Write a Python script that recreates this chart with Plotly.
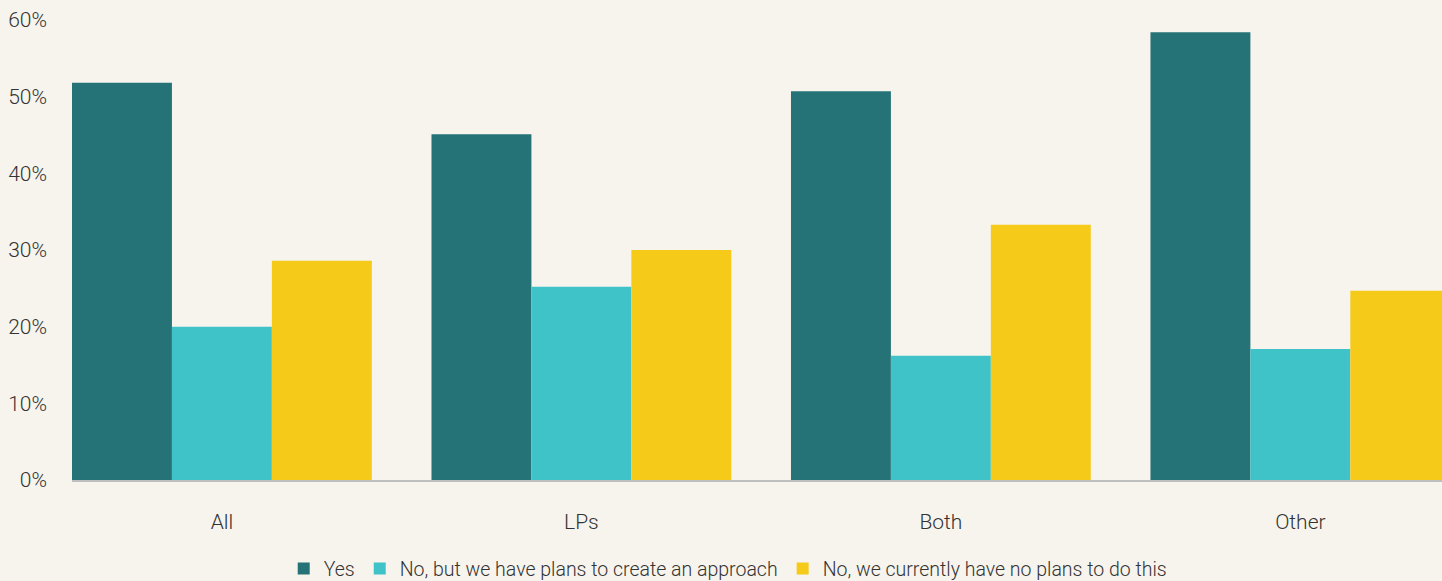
import plotly.graph_objects as go

categories = ["All", "LPs", "Both", "Other"]
series_names = ["Yes", "No, but we have plans to create an approach", "No, we currently have no plans to do this"]
yes_vals = [51.8, 45.1, 50.7, 58.4]
plans_vals = [20.0, 25.2, 16.2, 17.1]
noplans_vals = [28.6, 30.0, 33.3, 24.7]
colors = ["#267377", "#40C3C8", "#F5CA18"]
y_ticks = [0, 10, 20, 30, 40, 50, 60]
y_tick_labels = ["0%", "10%", "20%", "30%", "40%", "50%", "60%"]

FONT = "Roboto, sans-serif"

fig = go.Figure()
for name, vals, col in zip(series_names, [yes_vals, plans_vals, noplans_vals], colors):
    fig.add_trace(go.Bar(x=categories, y=vals, name=name, marker=dict(color=col, line=dict(width=0))))

fig.update_layout(
    width=1442, height=581,
    barmode="group", bargap=0.166, bargroupgap=0,
    paper_bgcolor="#F7F4EE", plot_bgcolor="#F7F4EE",
    margin=dict(l=72, r=0, t=20, b=101),
    font=dict(family=FONT, size=21, color="#333333", weight=300),
    showlegend=True,
    legend=dict(orientation="h", xref="container", x=0.505, xanchor="center",
                yref="container", y=0.021, yanchor="middle",
                font=dict(size=19.5, weight=300), itemsizing="constant", tracegroupgap=0,
                itemwidth=30, bgcolor="rgba(0,0,0,0)"),
    xaxis=dict(type="category", range=[-0.417, 3.394], showgrid=False,
               showline=True, linecolor="#BFBFBF", linewidth=1.5,
               ticks="", ticklabelstandoff=22, tickfont=dict(size=21, weight=300)),
    yaxis=dict(range=[0, 60], tickvals=y_ticks, ticktext=y_tick_labels,
               showgrid=False, zeroline=False, showline=False, ticks="",
               ticklabelstandoff=24, tickfont=dict(size=21, weight=300)),
)

fig.write_html("out.html", config={"displayModeBar": False},
               post_script="document.body.style.margin='0px';document.body.style.overflow='hidden';")
